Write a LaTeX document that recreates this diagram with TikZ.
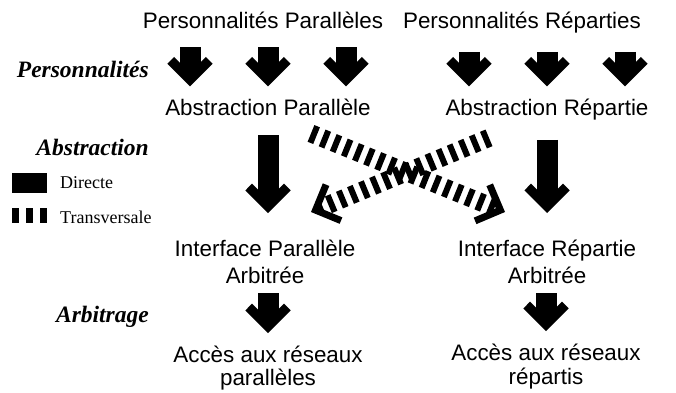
\documentclass[tikz,border=0pt]{standalone}
\usepackage{fontspec}
\setmainfont{Liberation Serif}
\setsansfont{Liberation Sans}
\usetikzlibrary{calc}

\tikzset{
	texte/.style={font=\sffamily\fontsize{22.4}{27}\selectfont, inner sep=0pt},
	etiquette/.style={font=\rmfamily\bfseries\itshape\fontsize{23.5}{28}\selectfont, inner sep=0pt, anchor=base east},
	legende/.style={font=\rmfamily\fontsize{18}{22}\selectfont, inner sep=0pt, anchor=base west},
	directe/.style={line width=21pt, shorten >=12pt},
	transversale/.style={line width=18pt, dash pattern=on 6pt off 6pt, shorten >=9.5pt},
	pointe/.style n args={4}{fill=black, to path={
		($(\tikztotarget)!#1!45:(\tikztostart)$) -- (\tikztotarget) -- ($(\tikztotarget)!#1!-45:(\tikztostart)$)
		-- ($(\tikztotarget)!#2!-#3:(\tikztostart)$) -- ($(\tikztotarget)!#4!(\tikztostart)$)
		-- ($(\tikztotarget)!#2!#3:(\tikztostart)$) -- cycle}},
	grosse pointe/.style={pointe={32pt}{33.4pt}{28.5}{13.4pt}},
	pointe fine/.style={pointe={31pt}{31.8pt}{32.3}{9.9pt}}
}

\begin{document}
\begin{tikzpicture}[x=1pt,y=-1pt]
	\useasboundingbox (0,0) rectangle (676,392);

	\node[texte,anchor=base] (pp) at (263,28) {Personnalités Parallèles};
	\node[texte,anchor=base] (pr) at (522,28) {Personnalités Réparties};
	\node[texte,anchor=base] (ap) at (268,115) {Abstraction Parallèle};
	\node[texte,anchor=base] (ar) at (547,115) {Abstraction Répartie};
	\node[texte,align=center,anchor=north] (ip) at (265,240) {Interface Parallèle\\Arbitrée};
	\node[texte,align=center,anchor=north] (ir) at (547,240) {Interface Répartie\\Arbitrée};
	\node[texte,align=center,anchor=north] (rp) at (268,346) {Accès aux réseaux\\[-4pt]parallèles};
	\node[texte,align=center,anchor=north] (rr) at (546,344) {Accès aux réseaux\\[-3pt]répartis};

	\node[etiquette] (lpers) at (149,77) {Personnalités};
	\node[etiquette] (labs) at (149,155) {Abstraction};
	\node[etiquette] (larb) at (149,322) {Arbitrage};

	\fill (12,173) rectangle (47,193);
	\foreach \x in {12,26,40}
		\fill (\x,208) rectangle ++(6.5,15);
	\node[legende] (ldir) at (60,188) {Directe};
	\node[legende] (ltra) at (60,223) {Transversale};

	\foreach \m/\c/\a/\b in {ap/ir/43/-42, ar/ip/-58/46} {
		\coordinate (d) at ($(\m.south)+(\a,18)$);
		\coordinate (f) at ($(\c.north)+(\b,-28)$);
		\draw[transversale] (d) -- (f);
		\path[pointe fine] (d) to (f);
	}

	\foreach \n/\m in {pp/ap, pr/ar}
		\foreach \dx in {-78,0,78} {
			\coordinate (d) at ($(\n.south -| \m.north)+(\dx,19)$);
			\coordinate (f) at ($(\m.north)+(\dx,-12)$);
			\draw[directe] (d) -- (f);
			\path[grosse pointe] (d) to (f);
		}

	\foreach \m/\c in {ap/ip, ar/ir} {
		\coordinate (d) at ($(\m.south)+(0,20)$);
		\coordinate (f) at ($(\c.north -| \m.south)+(0,-27)$);
		\draw[directe] (d) -- (f);
		\path[grosse pointe] (d) to (f);
	}

	\foreach \m/\c in {ip/rp, ir/rr} {
		\coordinate (d) at ($(\m.south -| \c.north)+(0,9)$);
		\coordinate (f) at ($(\c.north)+(0,-13)$);
		\draw[directe] (d) -- (f);
		\path[grosse pointe] (d) to (f);
	}
\end{tikzpicture}
\end{document}
